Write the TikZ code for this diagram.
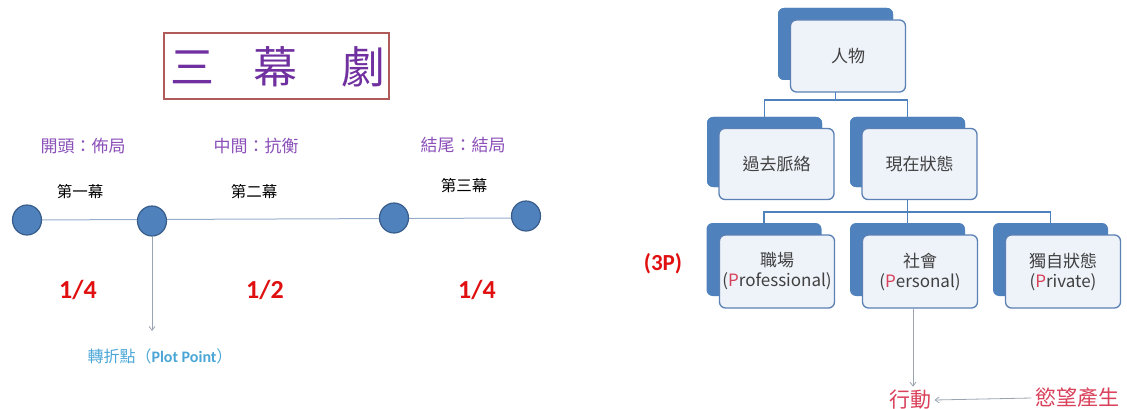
\documentclass[tikz,border=0pt]{standalone}
\usepackage{fontspec}
\setmainfont{Liberation Sans}
\newfontfamily\cjk{Noto Sans CJK TC}
\newfontfamily\carl{Carlito}
\usetikzlibrary{arrows.meta,calc,shapes.geometric}
\definecolor{ttlpurple}{HTML}{7030A0}
\definecolor{lblpurple}{HTML}{8A4FB8}
\definecolor{boxred}{HTML}{B05A5A}
\definecolor{dotfill}{HTML}{4F81BD}
\definecolor{dotdraw}{HTML}{385D8A}
\definecolor{tline}{HTML}{97AECB}
\definecolor{arrgray}{HTML}{9AA4B0}
\definecolor{numred}{HTML}{E01010}
\definecolor{ppblue}{HTML}{4AA6D6}
\definecolor{orgblue}{HTML}{4F81BD}
\definecolor{orgedge}{HTML}{5B80B4}
\definecolor{orgfill}{HTML}{EEF2F9}
\definecolor{txtgray}{HTML}{404040}
\definecolor{actred}{HTML}{D9405A}
\tikzset{
  dot/.style={ellipse,draw=dotdraw,line width=1.2pt,fill=dotfill,minimum width=29pt,minimum height=30pt,inner sep=0pt},
  purplbl/.style={text=lblpurple,font=\cjk\fontsize{17}{19}\selectfont},
  actlbl/.style={text=black,font=\cjk\fontsize{15.5}{17}\selectfont},
  frac/.style={text=numred,font=\carl\bfseries\fontsize{26}{28}\selectfont},
  ttl/.style={text=ttlpurple,font=\cjk\fontsize{44}{46}\selectfont},
  back/.style={draw=none,fill=orgblue,rounded corners=6pt,minimum width=115pt,minimum height=#1,inner sep=0pt},
  front/.style={draw=orgedge,line width=1.3pt,fill=orgfill,rounded corners=6pt,minimum width=115pt,minimum height=#1,inner sep=0pt,
     text=txtgray,font=\cjk\fontsize{17}{21}\selectfont,align=center},
  conn/.style={draw=orgblue,line width=1.4pt},
  thinarr/.style={draw=arrgray,line width=0.8pt,-{Straight Barb[length=4pt,width=6pt]}},
}
\begin{document}
\begin{tikzpicture}[x=1pt,y=-1pt]
\useasboundingbox (0,0) rectangle (1127,409);
% ---------- left: three-act structure
\node[draw=boxred,line width=1.2pt,minimum width=225pt,minimum height=66pt,inner sep=0pt] (tb) at (276.5,66) {};
\node[ttl] (t1) at (192,67) {三};
\node[ttl] (t2) at (275,67) {幕};
\node[ttl] (t3) at (363,67) {劇};

\node[purplbl] (l1) at (83,146) {開頭：佈局};
\node[purplbl] (l2) at (256,146) {中間：抗衡};
\node[purplbl] (l3) at (463,145) {結尾：結局};
\node[actlbl] (a1) at (80,192) {第一幕};
\node[actlbl] (a2) at (254,192) {第二幕};
\node[actlbl] (a3) at (464,186) {第三幕};

\coordinate (c1p) at (27,220);
\coordinate (c4p) at (526,218);
\draw[tline,line width=1pt] (c1p) -- (c4p);
\node[dot] (c1) at (27,220) {};
\node[dot] (c2) at (152,221) {};
\node[dot] (c3) at (394,218) {};
\node[dot] (c4) at (526,216) {};

\node[frac] (f1) at (78,290) {1/4};
\node[frac] (f2) at (265,290) {1/2};
\node[frac] (f3) at (477,290) {1/4};

\node[text=ppblue,font=\cjk\fontsize{16}{18}\selectfont] (pp) at (160,356) {轉折點（{\carl\bfseries Plot Point}）};
\coordinate (ppend) at (152,331);
\draw[thinarr] (c2.south) -- (ppend);

% ---------- right: character hierarchy
\node[back=72pt] (b1) at (835.5,44) {};
\node[back=70pt] (b2) at (764.5,152) {};
\node[back=70pt] (b3) at (907.5,152) {};
\node[back=73pt] (b4) at (764,259.5) {};
\node[back=73pt] (b5) at (907.5,259.5) {};
\node[back=73pt] (b6) at (1050.5,259.5) {};

\coordinate (j1) at (835.5,100);
\coordinate (j2) at (907.5,212);
\draw[conn] (b1.center) -- (j1);
\draw[conn] (j1) -| (b2.north);
\draw[conn] (j1) -| (b3.north);
\draw[conn] (b3.center) -- (j2);
\draw[conn] (j2) -| (b4.north);
\draw[conn] (j2) -| (b5.north);
\draw[conn] (j2) -| (b6.north);
% re-draw back boxes above the connector stubs
\node[back=72pt] at (835.5,44) {};
\node[back=70pt] at (764.5,152) {};
\node[back=70pt] at (907.5,152) {};

\node[front=72pt] (n1) at (848,56) {人物};
\node[front=71pt] (n2) at (776.5,164) {過去脈絡};
\node[front=71pt] (n3) at (919.5,164) {現在狀態};
\node[front=73pt] (n4) at (777,271.5) {職場\\[-1pt]({\color{actred}P}rofessional)};
\node[front=73pt] (n5) at (920,271.5) {社會\\[-1pt]({\color{actred}P}ersonal)};
\node[front=73pt] (n6) at (1063,271.5) {獨自狀態\\[-1pt]({\color{actred}P}rivate)};

\node[text=numred,font=\carl\bfseries\fontsize{23}{25}\selectfont] (p3) at (663,264) {(3P)};

\node[text=actred,font=\cjk\fontsize{21}{23}\selectfont] (act) at (910,400) {行動};
\node[text=actred,font=\cjk\fontsize{21}{23}\selectfont] (want) at (1077,398) {慾望產生};
\coordinate (s5) at ($(n5.south)+(-7,0)$);
\draw[thinarr] (s5) -- (s5 |- act.north);
\draw[thinarr] (want.west) -- (act.east);
\end{tikzpicture}
\end{document}
